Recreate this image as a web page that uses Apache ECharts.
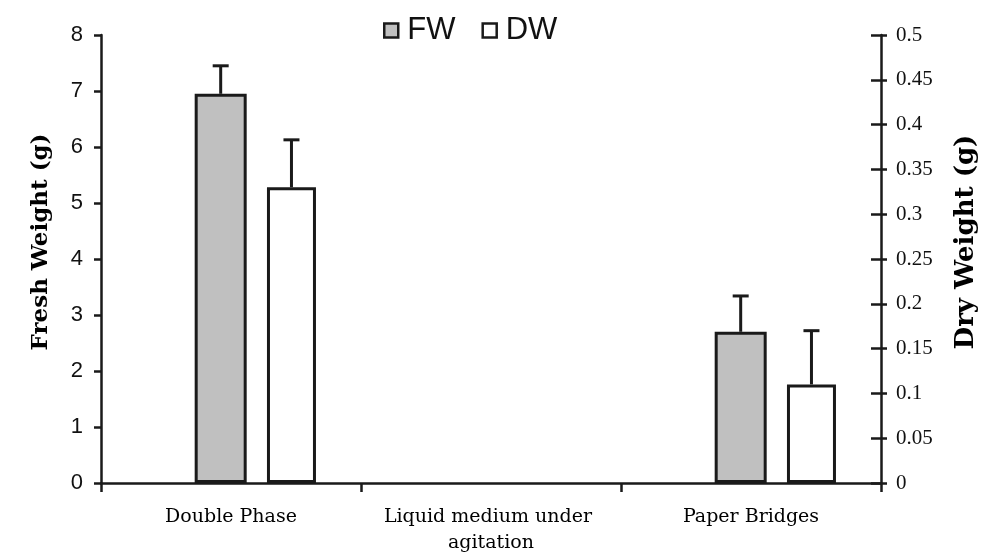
<!DOCTYPE html>
<html>
<head>
<meta charset="utf-8">
<script src="https://cdn.jsdelivr.net/npm/echarts@6/dist/echarts.min.js"></script>
<style>html,body{margin:0;padding:0;background:#fff;}#chart{width:1000px;height:552px;}</style>
</head>
<body>
<div id="chart"></div>
<script>
const categories = ['Double Phase', 'Liquid medium under agitation', 'Paper Bridges'];
const fwValues = [6.95, null, 2.7];
const fwErrors = [0.5, null, 0.64];
const dwValues = [0.33, null, 0.11];
const dwErrors = [0.053, null, 0.06];
const fwTicks = { min: 0, max: 8, interval: 1 };
const dwTicks = { min: 0, max: 0.5, interval: 0.05 };

// bar layout constants (px)
const SPACER_W = 35, FW_W = 52, DW_W = 49, GAP = 0.39;
const total = SPACER_W * (1 + GAP) + FW_W * (1 + GAP) + DW_W;
const fwOffset = -total / 2 + SPACER_W * (1 + GAP) + FW_W / 2;
const dwOffset = -total / 2 + SPACER_W * (1 + GAP) + FW_W * (1 + GAP) + DW_W / 2;

const ink = '#1a1a1a';

function errData(vals, errs) {
  const out = [];
  vals.forEach((v, i) => { if (v != null) out.push([i, v, errs[i]]); });
  return out;
}
function errRender(offset) {
  return function (params, api) {
    const i = api.value(0), v = api.value(1), e = api.value(2);
    const base = api.coord([i, v]);
    const top = api.coord([i, v + e]);
    const x = base[0] + offset;
    return {
      type: 'group',
      children: [
        { type: 'line', shape: { x1: x, y1: base[1], x2: x, y2: top[1] }, style: { stroke: ink, lineWidth: 3 } },
        { type: 'line', shape: { x1: x - 8, y1: top[1], x2: x + 8, y2: top[1] }, style: { stroke: ink, lineWidth: 3 } }
      ]
    };
  };
}

const chart = echarts.init(document.getElementById('chart'), null, { renderer: 'canvas' });
chart.setOption({
  animation: false,
  backgroundColor: '#fff',
  legend: {
    data: [
      { name: 'FW', itemStyle: { color: '#c0c0c0', borderColor: ink, borderWidth: 2.5 } },
      { name: 'DW', itemStyle: { color: '#fff', borderColor: ink, borderWidth: 2.5 } }
    ],
    left: 378, top: 10,
    icon: 'rect', itemWidth: 14, itemHeight: 14, itemGap: 26,
    textStyle: { fontFamily: 'Liberation Sans', fontSize: 31, color: '#111', padding: [0, 0, 0, 4] }
  },
  grid: { left: 101, right: 119, top: 35, bottom: 69, containLabel: false, outerBoundsMode: 'none' },
  xAxis: {
    type: 'category',
    data: categories,
    axisLine: { lineStyle: { color: ink, width: 2.5 } },
    axisTick: { show: true, length: 9, lineStyle: { color: ink, width: 2.5 } },
    axisLabel: {
      fontFamily: 'DejaVu Serif', fontSize: 19, color: '#000', margin: 21, lineHeight: 26,
      width: 240, overflow: 'break', interval: 0
    }
  },
  yAxis: [
    {
      type: 'value', position: 'left', min: fwTicks.min, max: fwTicks.max, interval: fwTicks.interval,
      name: 'Fresh Weight (g)', nameLocation: 'middle', nameGap: 48, nameRotate: 90,
      nameTextStyle: { fontFamily: 'DejaVu Serif', fontWeight: 'bold', fontSize: 23, color: '#000', padding: [0, 0, 0, 34] },
      splitLine: { show: false },
      axisLine: { show: true, lineStyle: { color: ink, width: 2.5 } },
      axisTick: { show: true, length: 7, lineStyle: { color: ink, width: 2.5 } },
      axisLabel: { fontFamily: 'Liberation Sans', fontSize: 22, color: '#111', margin: 18 }
    },
    {
      type: 'value', position: 'right', min: dwTicks.min, max: dwTicks.max, interval: dwTicks.interval,
      name: 'Dry Weight (g)', nameLocation: 'middle', nameGap: 72, nameRotate: 90,
      nameTextStyle: { fontFamily: 'DejaVu Serif', fontWeight: 'bold', fontSize: 26, color: '#000', padding: [0, 0, 0, 34] },
      splitLine: { show: false },
      axisLine: { show: true, lineStyle: { color: ink, width: 2.5 } },
      axisTick: { show: true, inside: true, length: 10, lineStyle: { color: ink, width: 2.5 } },
      axisLabel: { fontFamily: 'Liberation Serif', fontSize: 21, color: '#111', margin: 15 }
    },
    {
      type: 'value', position: 'right', min: dwTicks.min, max: dwTicks.max, interval: dwTicks.interval,
      splitLine: { show: false },
      axisLine: { show: false },
      axisTick: { show: true, length: 6, lineStyle: { color: ink, width: 2.5 } },
      axisLabel: { show: false }
    }
  ],
  series: [
    {
      name: 'spacer', type: 'bar', yAxisIndex: 0, barWidth: SPACER_W,
      data: categories.map(() => null), silent: true
    },
    {
      name: 'FW', type: 'bar', yAxisIndex: 0, barWidth: FW_W,
      data: fwValues,
      itemStyle: { color: '#c0c0c0', borderColor: ink, borderWidth: 3 }
    },
    {
      name: 'DW', type: 'bar', yAxisIndex: 1, barWidth: DW_W, barGap: (GAP * 100) + '%',
      data: dwValues,
      itemStyle: { color: '#fff', borderColor: ink, borderWidth: 3 }
    },
    {
      name: 'FW err', type: 'custom', yAxisIndex: 0, z: 1,
      data: errData(fwValues, fwErrors), renderItem: errRender(fwOffset), silent: true
    },
    {
      name: 'DW err', type: 'custom', yAxisIndex: 1, z: 1,
      data: errData(dwValues, dwErrors), renderItem: errRender(dwOffset), silent: true
    }
  ]
});
</script>
</body>
</html>
